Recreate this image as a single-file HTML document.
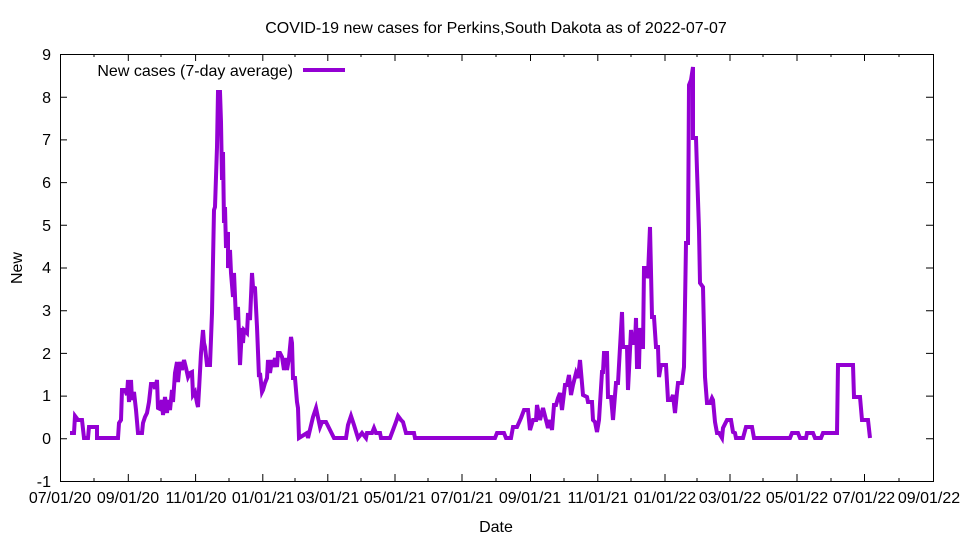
<!DOCTYPE html>
<html><head><meta charset="utf-8"><style>
html,body{margin:0;padding:0;background:#fff}
svg{display:block}
text{font-family:"Liberation Sans",sans-serif;font-size:16px;fill:#000}
</style></head><body>
<svg width="960" height="540" viewBox="0 0 960 540">
<rect width="960" height="540" fill="#fff"/>
<text x="496" y="33" text-anchor="middle">COVID-19 new cases for Perkins,South Dakota as of 2022-07-07</text>
<rect x="60.5" y="54.5" width="873" height="427" fill="none" stroke="#000" stroke-width="1"/>
<g stroke="#000" stroke-width="1">
<path d="M60 54.5h7M60 97.2h7M60 139.9h7M60 182.6h7M60 225.3h7M60 268h7M60 310.7h7M60 353.4h7M60 396.1h7M60 438.8h7M60 481.5h7"/>
<path d="M933 54.5h-7M933 97.2h-7M933 139.9h-7M933 182.6h-7M933 225.3h-7M933 268h-7M933 310.7h-7M933 353.4h-7M933 396.1h-7M933 438.8h-7M933 481.5h-7"/>
<path d="M128.3 481v-7M195.6 481v-7M262.8 481v-7M327.8 481v-7M395 481v-7M462 481v-7M530.5 481v-7M597.8 481v-7M665 481v-7M730 481v-7M797 481v-7M864.5 481v-7"/>
<path d="M128.3 54v7M195.6 54v7M262.8 54v7M327.8 54v7M395 54v7M462 54v7M530.5 54v7M597.8 54v7M665 54v7M730 54v7M797 54v7M864.5 54v7"/>
<path d="M94 481v-3M161 481v-3M229 481v-3M295 481v-3M361 481v-3M428 481v-3M496 481v-3M564 481v-3M631 481v-3M697 481v-3M763 481v-3M831 481v-3M899 481v-3"/>
<path d="M94 54v3M161 54v3M229 54v3M295 54v3M361 54v3M428 54v3M496 54v3M564 54v3M631 54v3M697 54v3M763 54v3M831 54v3M899 54v3"/>
</g>
<g text-anchor="end">
<text x="51" y="60">9</text><text x="51" y="103">8</text><text x="51" y="145">7</text><text x="51" y="188">6</text><text x="51" y="231">5</text><text x="51" y="273">4</text><text x="51" y="316">3</text><text x="51" y="359">2</text><text x="51" y="401">1</text><text x="51" y="444">0</text><text x="51" y="487">-1</text>
</g>
<g text-anchor="middle">
<text x="60" y="503">07/01/20</text><text x="128" y="503">09/01/20</text><text x="196" y="503">11/01/20</text><text x="263" y="503">01/01/21</text><text x="328" y="503">03/01/21</text><text x="395" y="503">05/01/21</text><text x="462" y="503">07/01/21</text><text x="530" y="503">09/01/21</text><text x="598" y="503">11/01/21</text><text x="665" y="503">01/01/22</text><text x="730" y="503">03/01/22</text><text x="797" y="503">05/01/22</text><text x="864" y="503">07/01/22</text><text x="929" y="503">09/01/22</text>
</g>
<text x="496" y="532" text-anchor="middle">Date</text>
<text x="22" y="268" text-anchor="middle" transform="rotate(-90 22 268)">New</text>
<text x="293" y="76" text-anchor="end">New cases (7-day average)</text>
<path d="M303 70H345" stroke="#9400d3" stroke-width="4"/>
<polyline fill="none" stroke="#9400d3" stroke-width="4" stroke-linejoin="miter" points="70,433 74,433 75,416 78,420 82,420 84,438 88,438 89,427 97,427 97,438 118,438 119,423 121,420 122,390 125,390 127,395 128,380 129,402 131,380 132,400 134,392 136,410 138,433 142,433 143,423 145,417 147,413 149,402 151,384 154,384 155,389 157,380 158,408 160,409 162,400 163,415 165,397 167,413 168,400 170,410 172,390 173,402 175,373 177,362 178,382 180,362 182,370 184,360 186,368 188,377 190,373 192,372 193,395 195,392 197,403 198,407 199,390 201,353 203,330 204,343 205,347 207,365 210,365 212,313 214,210 215,207 217,147 218,92 220,92 221,122 222,180 223,152 224,223 225,207 226,248 228,232 228,268 230,250 231,273 233,297 234,273 236,320 238,307 240,365 242,328 243,343 244,330 247,333 248,313 250,320 252,273 253,287 255,288 257,327 259,377 260,373 262,392 263,390 265,383 267,378 268,360 270,373 272,360 273,367 275,358 277,367 278,353 280,353 282,357 284,370 286,358 287,370 289,358 291,337 292,343 293,378 295,378 297,402 298,408 299,438 307,433 308,438 313,417 316,408 320,427 322,422 326,422 330,430 334,438 346,438 348,425 351,416 354,425 358,438 362,433 366,438 367,433 372,433 374,428 376,433 380,433 381,438 390,438 393,430 396,422 398,416 401,420 403,422 406,433 414,433 415,438 495,438 497,433 504,433 506,438 511,438 513,427 517,427 521,418 524,410 528,410 530,430 533,420 536,420 537,405 540,420 543,408 546,420 548,428 550,420 552,430 554,405 556,405 558,398 560,393 562,410 565,385 567,385 569,375 571,395 573,385 576,373 578,378 580,360 583,395 587,397 588,402 592,402 593,420 595,422 597,432 599,420 602,372 603,372 604,353 607,353 608,397 611,397 612,408 613,420 616,383 618,383 622,312 623,347 627,347 628,390 631,330 633,343 635,343 636,318 637,367 639,367 640,328 642,347 643,347 644,268 646,268 647,278 648,275 650,227 652,317 654,317 656,347 658,347 659,377 661,365 666,365 668,400 671,400 673,395 675,413 677,392 678,383 682,383 684,367 686,243 688,243 689,85 691,80 693,67 693,138 696,138 697,170 699,230 700,283 703,287 705,377 707,403 710,403 712,398 713,400 715,422 717,433 719,433 722,438 723,428 727,420 731,420 733,432 735,433 736,438 743,438 746,427 752,427 754,438 790,438 792,433 798,433 800,438 806,438 807,433 813,433 815,438 821,438 823,433 837,433 838,365 853,365 854,397 860,397 862,420 868,420 870,438"/>
</svg>
</body></html>
